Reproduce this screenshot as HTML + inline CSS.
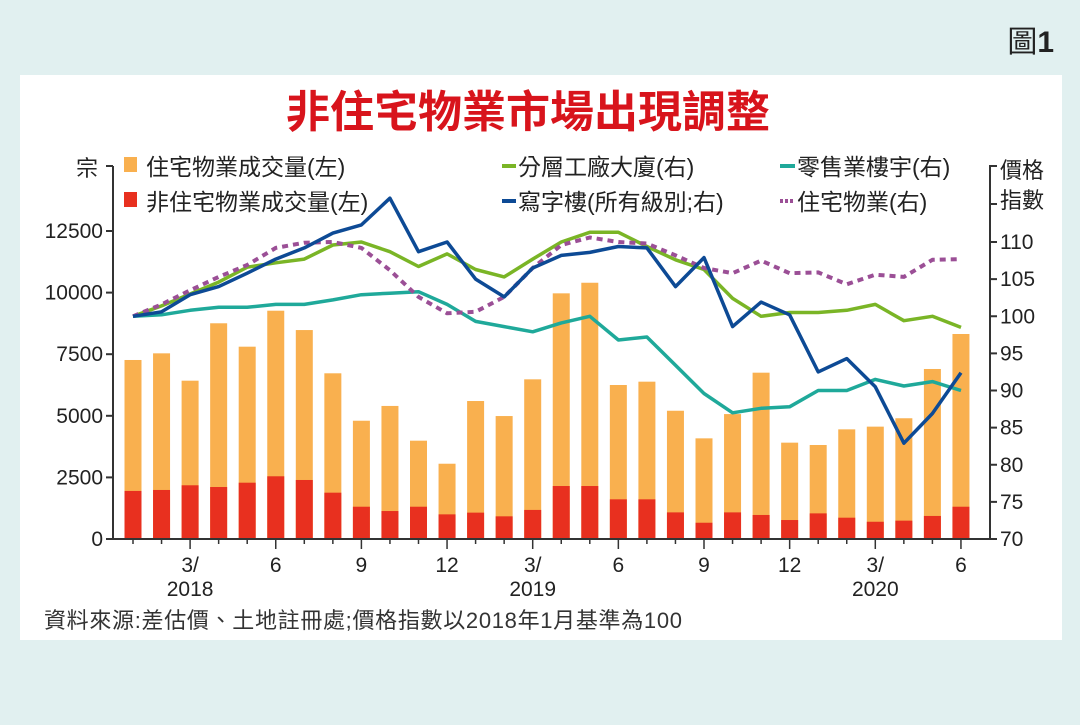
<!DOCTYPE html>
<html><head><meta charset="utf-8">
<style>
html,body{margin:0;padding:0;}
body{width:1080px;height:720px;background:#e1f0f0;overflow:hidden;font-family:"Liberation Sans Narrow","Liberation Sans","Noto Sans CJK TC",sans-serif;}
svg text{font-family:"Liberation Sans Narrow","Liberation Sans","Noto Sans CJK TC",sans-serif;}
</style></head>
<body>
<svg id="chart" width="1080" height="720" viewBox="0 0 1080 720" xmlns="http://www.w3.org/2000/svg">
<rect x="20" y="75" width="1042" height="565" fill="#ffffff"/>
<text x="1054" y="52" font-size="30" text-anchor="end" fill="#222">圖<tspan font-weight="bold">1</tspan></text>
<text x="528" y="127" font-size="44" font-weight="bold" text-anchor="middle" fill="#d8141c">非住宅物業市場出現調整</text>
<g id="legend" font-size="23" fill="#222">
 <rect x="124" y="157" width="13" height="15" fill="#f9b04f"/>
 <text x="146" y="175">住宅物業成交量(左)</text>
 <rect x="124" y="192" width="13" height="15" fill="#e8301f"/>
 <text x="146" y="210">非住宅物業成交量(左)</text>
 <line x1="502" y1="166" x2="516" y2="166" stroke="#7ab526" stroke-width="4"/>
 <text x="518" y="175">分層工廠大廈(右)</text>
 <line x1="502" y1="201" x2="516" y2="201" stroke="#0d4a95" stroke-width="4"/>
 <text x="518" y="210">寫字樓(所有級別;右)</text>
 <line x1="780" y1="166" x2="795" y2="166" stroke="#1fa99a" stroke-width="4"/>
 <text x="797" y="175">零售業樓宇(右)</text>
 <line x1="780" y1="201" x2="795" y2="201" stroke="#9b4f96" stroke-width="4" stroke-dasharray="3,2"/>
 <text x="797" y="210">住宅物業(右)</text>
</g>
<text x="76" y="176" font-size="22" fill="#222">宗</text>
<text x="1000" y="178" font-size="22" fill="#222">價格</text>
<text x="1000" y="208" font-size="22" fill="#222">指數</text>
<text x="44" y="628" font-size="22" fill="#333" textLength="638" lengthAdjust="spacing">資料來源:差估價、土地註冊處;價格指數以2018年1月基準為100</text>
<g id="bars"></g><g id="lines"></g><g id="axes"></g>
</svg>
<script>
const months = ["2018-01","2018-02","2018-03","2018-04","2018-05","2018-06","2018-07","2018-08","2018-09","2018-10","2018-11","2018-12","2019-01","2019-02","2019-03","2019-04","2019-05","2019-06","2019-07","2019-08","2019-09","2019-10","2019-11","2019-12","2020-01","2020-02","2020-03","2020-04","2020-05","2020-06"];
const totalVolume = [7265,7535,6425,8755,7805,9265,8480,6725,4800,5400,3990,3055,5600,4990,6480,9970,10400,6250,6385,5205,4085,5070,6750,3910,3815,4450,4560,4900,6900,8320];
const nonResVolume = [1950,1990,2180,2110,2285,2545,2395,1880,1310,1135,1310,1000,1070,920,1180,2150,2150,1610,1610,1080,660,1080,975,770,1040,865,700,745,935,1310];
const factoryIdx = [100,101.4,103,104.6,106.6,107.2,107.7,109.6,110,108.7,106.7,108.4,106.3,105.3,107.7,110,111.3,111.3,109.4,107.6,106.3,102.4,100,100.5,100.5,100.8,101.6,99.4,100,98.5];
const officeIdx = [100,100.6,102.9,104,105.8,107.7,109.2,111.2,112.3,115.9,108.7,110,105,102.6,106.5,108.2,108.6,109.4,109.2,104,107.9,98.6,101.9,100.2,92.5,94.3,90.5,82.9,86.9,92.4];
const retailIdx = [100,100.2,100.8,101.2,101.2,101.6,101.6,102.2,102.9,103.1,103.3,101.6,99.3,98.6,97.9,99.1,100,96.8,97.2,93.4,89.6,87,87.6,87.8,90,90,91.5,90.6,91.2,90];
const residentialIdx = [100,101.6,103.5,105.3,106.9,109.2,109.9,110,109.2,106.2,102.6,100.4,100.6,102.6,106.5,109.6,110.6,110,109.8,108.2,106.5,105.8,107.5,105.8,105.9,104.3,105.6,105.3,107.6,107.7];
const leftTicks = [0,2500,5000,7500,10000,12500];
const rightTicks = [70,75,80,85,90,95,100,105,110];
const xTickLabels = [["3/","2018"],["6",""],["9",""],["12",""],["3/","2019"],["6",""],["9",""],["12",""],["3/","2020"],["6",""]];
const xTickIndex = [2,5,8,11,14,17,20,23,26,29];

const NS="http://www.w3.org/2000/svg";
const x0=133, dx=28.55, yBase=539;
const xs=i=>x0+dx*i;
const yL=v=>yBase-v*(308/12500);
const yR=v=>yBase-(v-70)*(297/40);
function mk(tag,attrs,parent){const e=document.createElementNS(NS,tag);for(const k in attrs)e.setAttribute(k,attrs[k]);parent.appendChild(e);return e;}
const gb=document.getElementById('bars'), gl=document.getElementById('lines'), ga=document.getElementById('axes');
const bw=17;
months.forEach((m,i)=>{
  const t=mk('rect',{x:xs(i)-bw/2,y:yL(totalVolume[i]),width:bw,height:yL(0)-yL(totalVolume[i]),fill:'#f9b04f'},gb);
  
  
  const r=mk('rect',{x:xs(i)-bw/2,y:yL(nonResVolume[i]),width:bw,height:yL(0)-yL(nonResVolume[i]),fill:'#e8301f'},gb);
  
  
});
function line(arr,color,name,dash){
  const p=mk('polyline',{points:arr.map((v,i)=>xs(i).toFixed(1)+','+yR(v).toFixed(1)).join(' '),fill:'none',stroke:color,'stroke-width':dash?4:3.5,'stroke-linejoin':'round'},gl);
  if(dash)p.setAttribute('stroke-dasharray',dash);
  
  
}
line(retailIdx,'#1fa99a','line-retail');
line(factoryIdx,'#7ab526','line-factory');
line(residentialIdx,'#9b4f96','line-residential-price','6,5');
line(officeIdx,'#0d4a95','line-office');
const ax=mk('line',{x1:113,y1:yBase,x2:990,y2:yBase,stroke:'#333','stroke-width':2},ga);

const la=mk('line',{x1:113,y1:166,x2:113,y2:yBase,stroke:'#333','stroke-width':2},ga);

const ra=mk('line',{x1:990,y1:170,x2:990,y2:yBase,stroke:'#333','stroke-width':2},ga);

mk('line',{x1:106,y1:166,x2:113,y2:166,stroke:'#333','stroke-width':2},ga);
mk('polyline',{points:'997,166 990,166 990,204 997,204',fill:'none',stroke:'#333','stroke-width':2},ga);
leftTicks.forEach(v=>{
  mk('line',{x1:106,y1:yL(v),x2:113,y2:yL(v),stroke:'#333','stroke-width':2},ga);
  const t=mk('text',{x:103,y:yL(v)+7,'font-size':21,'text-anchor':'end',fill:'#222'},ga);
  t.textContent=v;
  
  
});
rightTicks.forEach(v=>{
  mk('line',{x1:990,y1:yR(v),x2:997,y2:yR(v),stroke:'#333','stroke-width':2},ga);
  const t=mk('text',{x:1000,y:yR(v)+7,'font-size':21,fill:'#222'},ga);
  t.textContent=v;
  
  
});
months.forEach((m,i)=>{
  const major=xTickIndex.indexOf(i)>=0;
  mk('line',{x1:xs(i),y1:yBase,x2:xs(i),y2:yBase+(major?10:5),stroke:'#333','stroke-width':1.5},ga);
});
xTickIndex.forEach((idx,k)=>{
  const lab=xTickLabels[k];
  const t=mk('text',{x:xs(idx),y:572,'font-size':21,'text-anchor':'middle',fill:'#222'},ga);
  t.textContent=lab[0];
  
  
  if(lab[1]){
    const y=mk('text',{x:xs(idx),y:596,'font-size':21,'text-anchor':'middle',fill:'#222'},ga);
    y.textContent=lab[1];
    
    
  }
});
</script>
</body></html>
